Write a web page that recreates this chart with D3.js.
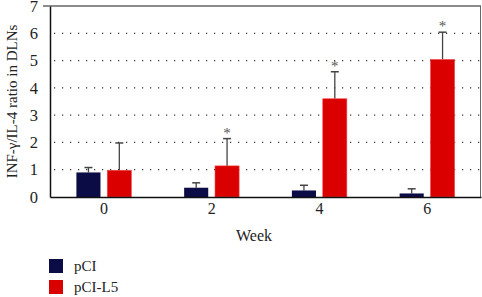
<!DOCTYPE html>
<html>
<head>
<meta charset="utf-8">
<script src="https://cdn.jsdelivr.net/npm/d3@7"></script>
<style>
  body { margin: 0; background: #fff; }
  text { font-family: "Liberation Serif", "DejaVu Serif", serif; fill: #222; }
</style>
</head>
<body>
<div id="chart"></div>
<script>
// --- Datos ---
const weeks = ["0", "2", "4", "6"];
const series = ["pCI", "pCI-L5"];
const pciMean = [0.90, 0.34, 0.24, 0.13];
const pciErr = [0.18, 0.18, 0.19, 0.17];
const l5Mean = [0.98, 1.14, 3.60, 5.04];
const l5Err = [1.00, 1.00, 0.99, 1.00];
const significant = [false, true, true, true];
const yTicks = [0, 1, 2, 3, 4, 5, 6, 7];
const colors = ["#0b0b45", "#db0000"];

// --- SVG ---
const width = 482, height = 297;
const margin = { top: 6, right: 1, bottom: 100, left: 50 };

const svg = d3.select("#chart").append("svg")
    .attr("width", width)
    .attr("height", height);

const x0 = d3.scaleBand()
    .domain(weeks)
    .range([margin.left, width - margin.right])
    .paddingInner(0.49)
    .paddingOuter(0.245);

const x1 = d3.scaleBand()
    .domain(series)
    .range([0, x0.bandwidth()])
    .paddingInner(0.22);

const y = d3.scaleLinear()
    .domain([0, 7])
    .range([height - margin.bottom, margin.top]);

// --- Rejilla punteada ---
svg.append("g")
    .selectAll("line")
    .data(yTicks.filter(d => d > 0 && d < 7))
    .enter()
    .append("line")
    .attr("x1", margin.left + 4)
    .attr("x2", width - margin.right)
    .attr("y1", d => y(d))
    .attr("y2", d => y(d))
    .style("stroke", "#333")
    .style("stroke-width", 1.2)
    .style("stroke-dasharray", "1.2,6.8");

// --- Marco superior y derecho ---
svg.append("line")
    .attr("x1", 43).attr("x2", width - margin.right)
    .attr("y1", y(7)).attr("y2", y(7))
    .style("stroke", "#666").style("stroke-width", 1.3);
svg.append("line")
    .attr("x1", width - margin.right - 0.5).attr("x2", width - margin.right - 0.5)
    .attr("y1", y(7)).attr("y2", y(0))
    .style("stroke", "#666").style("stroke-width", 1);

// --- Barras ---
const rows = weeks.map((w, i) => ({
    week: w,
    sig: significant[i],
    vals: [
        { key: series[0], mean: pciMean[i], err: pciErr[i], color: colors[0] },
        { key: series[1], mean: l5Mean[i], err: l5Err[i], color: colors[1] }
    ]
}));

const groups = svg.append("g")
    .selectAll("g")
    .data(rows)
    .enter()
    .append("g")
    .attr("transform", d => `translate(${x0(d.week)},0)`);

const bars = groups.selectAll("g")
    .data(d => d.vals.map(v => ({ ...v, sig: d.sig })))
    .enter()
    .append("g");

// barras de error (solo hacia arriba)
bars.append("line")
    .attr("x1", d => x1(d.key) + x1.bandwidth() / 2)
    .attr("x2", d => x1(d.key) + x1.bandwidth() / 2)
    .attr("y1", d => y(d.mean))
    .attr("y2", d => y(d.mean + d.err))
    .style("stroke", "#444")
    .style("stroke-width", 1.3);

bars.append("line")
    .attr("x1", d => x1(d.key) + x1.bandwidth() / 2 - 4)
    .attr("x2", d => x1(d.key) + x1.bandwidth() / 2 + 4)
    .attr("y1", d => y(d.mean + d.err))
    .attr("y2", d => y(d.mean + d.err))
    .style("stroke", "#444")
    .style("stroke-width", 1.5);

bars.append("rect")
    .attr("x", d => x1(d.key))
    .attr("width", x1.bandwidth())
    .attr("y", d => y(d.mean))
    .attr("height", d => y(0) - y(d.mean))
    .attr("fill", d => d.color)
    .style("stroke", d => d.key === "pCI-L5" ? "#f04848" : "none")
    .style("stroke-width", 0.6);

// asteriscos
bars.filter(d => d.sig && d.key === "pCI-L5")
    .append("text")
    .attr("x", d => x1(d.key) + x1.bandwidth() / 2)
    .attr("y", d => y(d.mean + d.err) - 1)
    .attr("text-anchor", "middle")
    .style("font-size", "15px")
    .style("fill", "#555")
    .text("*");

// --- Ejes ---
const yAxis = svg.append("g")
    .attr("transform", `translate(${margin.left},0)`)
    .call(d3.axisLeft(y).tickValues(yTicks).tickFormat(d3.format("d")).tickSize(0).tickPadding(12))
    .attr("font-family", null)
    .attr("font-size", null);
yAxis.select(".domain").style("stroke", "#111").style("stroke-width", 1.5);
yAxis.selectAll("text").style("font-size", "16.5px").style("fill", "#222");

const xAxis = svg.append("g")
    .attr("transform", `translate(0,${y(0)})`)
    .call(d3.axisBottom(x0).tickSize(0).tickPadding(6))
    .attr("font-family", null)
    .attr("font-size", null);
xAxis.select(".domain").style("stroke", "#111").style("stroke-width", 1.5);
xAxis.selectAll("text").style("font-size", "16px").style("fill", "#222");

// --- Títulos ---
svg.append("text")
    .attr("x", (margin.left + width) / 2 - 12)
    .attr("y", 241)
    .attr("text-anchor", "middle")
    .style("font-size", "16px")
    .text("Week");

svg.append("text")
    .attr("transform", `translate(17,${(y(0) + y(7)) / 2}) rotate(-90)`)
    .attr("text-anchor", "middle")
    .style("font-size", "15px")
    .text("INF-γ/IL-4 ratio in DLNs");

// --- Leyenda ---
const legend = svg.append("g")
    .selectAll("g")
    .data(series)
    .enter()
    .append("g")
    .attr("transform", (d, i) => `translate(49,${259 + i * 21})`);

legend.append("rect")
    .attr("width", 14)
    .attr("height", 14)
    .attr("fill", (d, i) => colors[i]);

legend.append("text")
    .attr("x", 25)
    .attr("y", 12)
    .style("font-size", "15px")
    .text(d => d);
</script>
</body>
</html>
